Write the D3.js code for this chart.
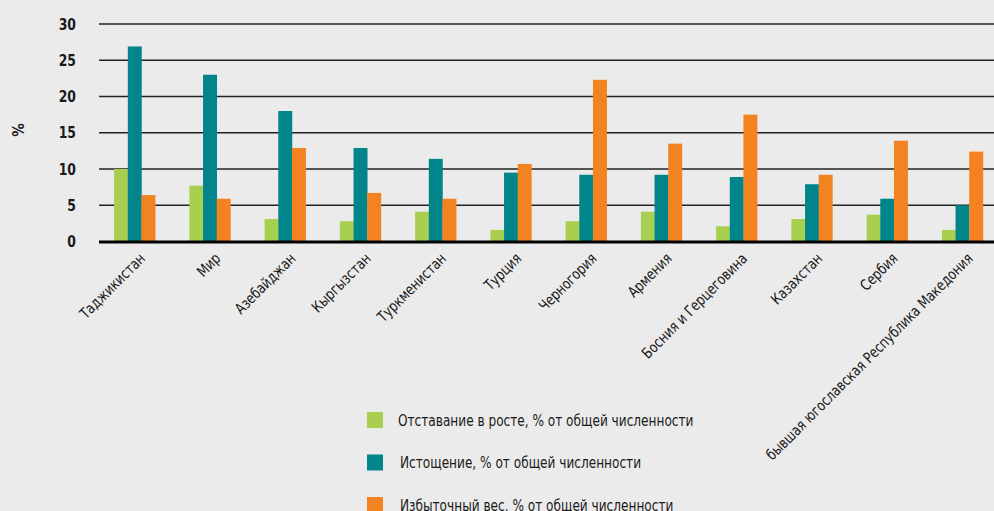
<!DOCTYPE html>
<html><head><meta charset="utf-8">
<script src="https://cdn.jsdelivr.net/npm/d3@7"></script>
<style>
html,body{margin:0;padding:0;background:#ebebeb;}
svg{display:block;}
text{font-family:"Liberation Sans Narrow","DejaVu Sans Condensed",sans-serif;fill:#1a1a1a;}
</style></head>
<body>
<svg id="c" width="994" height="511"></svg>
<script>
const categories = ["Таджикистан","Мир","Азебайджан","Кыргызстан","Туркменистан","Турция","Черногория","Армения","Босния и Герцеговина","Казахстан","Сербия","бывшая югославская Республика Македония"];
const stunting = [10.0,7.7,3.1,2.8,4.1,1.6,2.8,4.1,2.1,3.1,3.7,1.6];
const wasting = [26.9,23.0,18.0,12.9,11.4,9.5,9.2,9.2,8.9,7.9,5.9,5.0];
const overweight = [6.4,5.9,12.9,6.7,5.9,10.7,22.3,13.5,17.5,9.2,13.9,12.4];
const seriesNames = ["Отставание в росте, % от общей численности","Истощение, % от общей численности","Избыточный вес, % от общей численности"];
const yTicks = [0,5,10,15,20,25,30];
const colors = ["#a8cf4f","#00868a","#f38321"];

const svg = d3.select("#c");
const series = [stunting, wasting, overweight];
const x = d3.scaleBand().domain(categories).range([98, 1001]).paddingInner(0).paddingOuter(0);
const y = d3.scaleLinear().domain([0,30]).range([241.5, 24]);
const groupW = 41;
const x1 = d3.scaleBand().domain([0,1,2]).range([0, groupW]);

// gridlines
svg.append("g").selectAll("line").data(yTicks.filter(d=>d>0)).join("line")
  .attr("x1",99).attr("x2",994).attr("y1",d=>y(d)).attr("y2",d=>y(d))
  .attr("stroke","#222").attr("stroke-width",1.6);

// y tick labels
svg.append("g").selectAll("text").data(yTicks).join("text")
  .attr("transform",d=>`translate(76,${y(d)}) scale(0.92,1.05)`).attr("dy","0.36em").attr("text-anchor","end")
  .style("font-size","15px").style("font-weight","bold").text(d=>d);

svg.append("text").attr("transform","translate(24,130) rotate(-90)").attr("text-anchor","middle")
  .style("font-size","15px").style("font-weight","bold").text("%");

// bars
const g = svg.append("g");
categories.forEach((c,i)=>{
  const cx = x(c) + x.bandwidth()/2 - groupW/2 - 1;
  series.forEach((s,k)=>{
    g.append("rect").attr("x", cx + x1(k)).attr("width", x1.bandwidth()+0.3)
      .attr("y", y(s[i])).attr("height", y(0)-y(s[i])).attr("fill", colors[k]);
  });
});

// baseline
svg.append("line").attr("x1",99).attr("x2",994).attr("y1",y(0)+0.5).attr("y2",y(0)+0.5)
  .attr("stroke","#000").attr("stroke-width",3);

// x labels
svg.append("g").selectAll("text").data(categories).join("text")
  .attr("transform",d=>`translate(${x(d)+x.bandwidth()/2+3},252) rotate(-45) scale(0.95,1.08)`)
  .attr("text-anchor","end").attr("dy","0.7em")
  .style("font-size","14px").text(d=>d);

// legend
const lg = svg.append("g");
seriesNames.forEach((n,k)=>{
  const yy = 420 + k*42.5;
  lg.append("rect").attr("x",367).attr("y",yy-8).attr("width",16).attr("height",16).attr("fill",colors[k]);
  lg.append("text").attr("transform",`translate(${398 + (k>0?2:0)},${yy}) scale(0.87,1)`).attr("dy","0.36em").style("font-size","15.5px").text(n);
});
</script>
</body></html>
